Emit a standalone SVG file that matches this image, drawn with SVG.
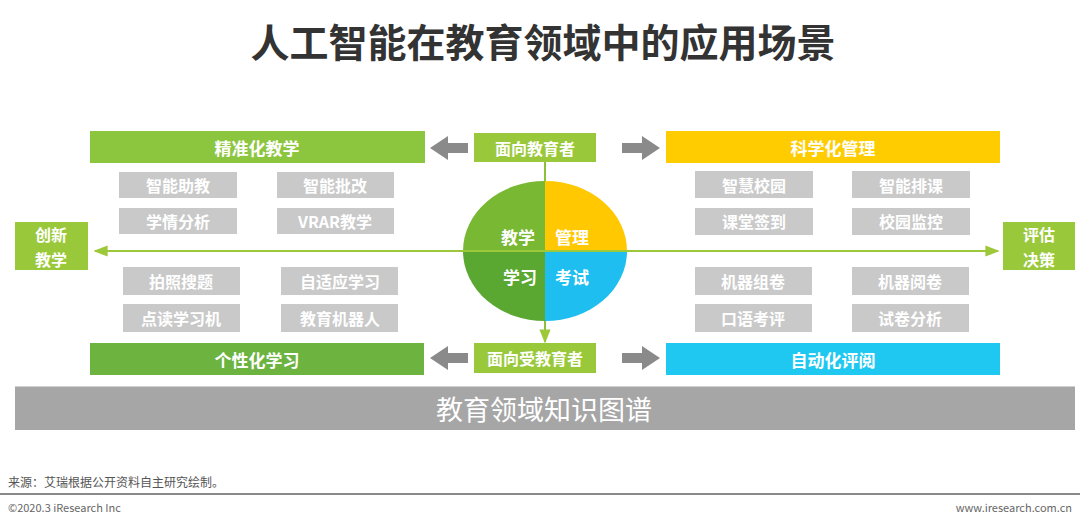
<svg xmlns="http://www.w3.org/2000/svg" width="1080" height="529" viewBox="0 0 1080 529">
<defs>
<style>
text{font-family:"Noto Sans CJK SC","Liberation Sans",sans-serif;}
.t{fill:#fff;font-size:16px;font-weight:bold;text-anchor:middle;dominant-baseline:central;}
.g{fill:#c9c9c9;}
.bar{font-size:17px;}
</style>
<marker id="ah" viewBox="0 0 10 10" refX="9" refY="5" markerWidth="7" markerHeight="7" orient="auto-start-reverse"><path d="M0,1 L10,5 L0,9 z" fill="#9cc83a"/></marker>
<path id="garrow" d="M0,-5 L20,-5 L20,-12 L38,0 L20,12 L20,5 L0,5 z" fill="#8a8a8a"/>
</defs>
<rect width="1080" height="529" fill="#fff"/>
<text x="543" y="40" font-size="39" font-weight="bold" fill="#333" text-anchor="middle" dominant-baseline="central">人工智能在教育领域中的应用场景</text>

<g id="connectors">
<line x1="95" y1="251" x2="998" y2="251" stroke="#9cc83a" stroke-width="2" marker-start="url(#ah)" marker-end="url(#ah)"/>
<line x1="545" y1="162" x2="545" y2="181" stroke="#8cbf3a" stroke-width="2"/>
<line x1="545" y1="321" x2="545" y2="342" stroke="#8cbf3a" stroke-width="2" marker-end="url(#ah)"/>
<use href="#garrow" transform="translate(468,148) scale(-1,1)"/>
<use href="#garrow" transform="translate(622,148)"/>
<use href="#garrow" transform="translate(468,358) scale(-1,1)"/>
<use href="#garrow" transform="translate(622,358)"/>
</g>

<g id="precise">
<rect x="90" y="131" width="335" height="32" fill="#8cc63f"/>
<text class="t bar" x="257" y="147">精准化教学</text>
<rect class="g" x="119" y="172" width="118" height="26"/><text class="t" x="178" y="185">智能助教</text>
<rect class="g" x="277" y="172" width="117" height="26"/><text class="t" x="335" y="185">智能批改</text>
<rect class="g" x="119" y="208" width="118" height="26"/><text class="t" x="178" y="221">学情分析</text>
<rect class="g" x="277" y="208" width="117" height="26"/><text class="t" x="335" y="221">VRAR教学</text>
</g>

<g id="personal">
<rect x="90" y="343" width="334" height="32" fill="#6cb33f"/>
<text class="t bar" x="257" y="359">个性化学习</text>
<rect class="g" x="123" y="267" width="117" height="28"/><text class="t" x="181" y="281">拍照搜题</text>
<rect class="g" x="281" y="267" width="117" height="28"/><text class="t" x="340" y="281">自适应学习</text>
<rect class="g" x="123" y="304" width="117" height="28"/><text class="t" x="181" y="318">点读学习机</text>
<rect class="g" x="281" y="304" width="117" height="28"/><text class="t" x="340" y="318">教育机器人</text>
</g>

<g id="manage">
<rect x="666" y="131" width="334" height="32" fill="#ffcc00"/>
<text class="t bar" x="833" y="147">科学化管理</text>
<rect class="g" x="695" y="171" width="118" height="27"/><text class="t" x="754" y="185">智慧校园</text>
<rect class="g" x="852" y="171" width="118" height="27"/><text class="t" x="911" y="185">智能排课</text>
<rect class="g" x="695" y="208" width="118" height="27"/><text class="t" x="754" y="221">课堂签到</text>
<rect class="g" x="852" y="208" width="118" height="27"/><text class="t" x="911" y="221">校园监控</text>
</g>

<g id="auto">
<rect x="666" y="343" width="334" height="32" fill="#1ec8f0"/>
<text class="t bar" x="833" y="359">自动化评阅</text>
<rect class="g" x="695" y="267" width="117" height="28"/><text class="t" x="753" y="281">机器组卷</text>
<rect class="g" x="852" y="267" width="117" height="28"/><text class="t" x="910" y="281">机器阅卷</text>
<rect class="g" x="695" y="304" width="117" height="28"/><text class="t" x="753" y="318">口语考评</text>
<rect class="g" x="852" y="304" width="117" height="28"/><text class="t" x="910" y="318">试卷分析</text>
</g>

<g id="educator">
<rect x="474" y="133" width="122" height="29" fill="#99c93a"/>
<text class="t" x="535" y="148">面向教育者</text>
</g>
<g id="learner">
<rect x="474" y="343" width="122" height="30" fill="#99c93a"/>
<text class="t" x="535" y="358">面向受教育者</text>
</g>

<g id="circle">
<path d="M545,251 L463,251 A82,70 0 0 1 545,181 z" fill="#78b833"/>
<path d="M545,251 L545,181 A82,70 0 0 1 627,251 z" fill="#ffc800"/>
<path d="M545,251 L627,251 A82,70 0 0 1 545,321 z" fill="#1ebef0"/>
<path d="M545,251 L545,321 A82,70 0 0 1 463,251 z" fill="#5aa832"/>
<line x1="463" y1="251" x2="627" y2="251" stroke="#9cc83a" stroke-width="2"/>
<text class="t bar" x="518" y="236">教学</text>
<text class="t bar" x="572" y="236">管理</text>
<text class="t bar" x="520" y="276">学习</text>
<text class="t bar" x="572" y="276">考试</text>
</g>

<g id="innovate">
<rect x="15" y="222" width="73" height="48" fill="#99c93a"/>
<text class="t" x="51" y="234">创新</text>
<text class="t" x="51" y="259">教学</text>
</g>
<g id="evaluate">
<rect x="1003" y="222" width="72" height="48" fill="#99c93a"/>
<text class="t" x="1039" y="234">评估</text>
<text class="t" x="1039" y="259">决策</text>
</g>

<g id="knowledge">
<rect x="15" y="386" width="1060" height="44" fill="#a6a6a6"/>
<line x1="15" y1="386.5" x2="1075" y2="386.5" stroke="#d0d0d0" stroke-width="1"/>
<text x="544" y="408" font-size="27" fill="#fff" text-anchor="middle" dominant-baseline="central">教育领域知识图谱</text>
</g>

<text x="8" y="487" font-size="12" fill="#555">来源：艾瑞根据公开资料自主研究绘制。</text>
<line x1="0" y1="494" x2="1080" y2="494" stroke="#8a8a8a" stroke-width="2"/>
<text x="8" y="512" font-size="11" fill="#666" font-family="Liberation Sans, sans-serif">©2020.3 iResearch Inc</text>
<text x="1072" y="512" font-size="11" fill="#666" text-anchor="end" font-family="Liberation Sans, sans-serif">www.iresearch.com.cn</text>
</svg>
